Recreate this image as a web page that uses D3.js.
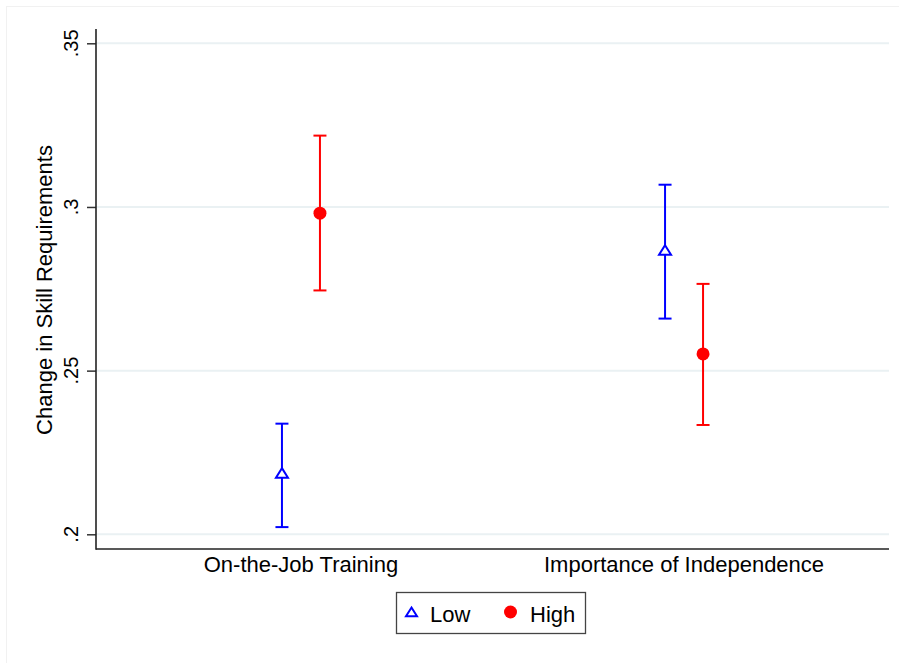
<!DOCTYPE html>
<html>
<head>
<meta charset="utf-8">
<script src="https://cdn.jsdelivr.net/npm/d3@7"></script>
<style>
  html, body { margin: 0; padding: 0; background: #fff; }
  svg text { font-family: "Liberation Sans", Arial, Helvetica, sans-serif; fill: #000; }
</style>
</head>
<body>
<svg id="chart" width="899" height="663"></svg>
<script>
// Outcome categories and skill groups
const categories = ["On-the-Job Training", "Importance of Independence"];
const groups = ["Low", "High"];

// Point estimates and 95% confidence bounds, per category (same order as categories)
const lowEstimate  = [0.2184, 0.2865];
const lowLower     = [0.2022, 0.2659];
const lowUpper     = [0.2338, 0.3068];
const highEstimate = [0.2981, 0.2551];
const highLower    = [0.2745, 0.2334];
const highUpper    = [0.3218, 0.2765];

const yTicks = [0.2, 0.25, 0.3, 0.35];
const yTickLabels = [".2", ".25", ".3", ".35"];
const yTitle = "Change in Skill Requirements";

const colors = { Low: "#0000ff", High: "#ff0000" };

const rows = [];
categories.forEach((c, i) => {
  rows.push({ cat: c, group: "Low",  est: lowEstimate[i],  lo: lowLower[i],  hi: lowUpper[i] });
  rows.push({ cat: c, group: "High", est: highEstimate[i], lo: highLower[i], hi: highUpper[i] });
});

const svg = d3.select("#chart");

// Plot region
const plotL = 96, plotR = 889, plotT = 29, plotB = 549;

// Faint outer frame edges
svg.append("line").attr("x1", 6.5).attr("x2", 6.5).attr("y1", 6).attr("y2", 663)
  .attr("stroke", "#f1f1f1").attr("stroke-width", 1);
svg.append("line").attr("x1", 6).attr("x2", 899).attr("y1", 6.5).attr("y2", 6.5)
  .attr("stroke", "#f1f1f1").attr("stroke-width", 1);

const y = d3.scaleLinear().domain([0.2, 0.35]).range([534.3, 43.3]);
const x = d3.scalePoint().domain(categories).range([plotL, plotR]).padding(0.535);
const dx = d3.scalePoint().domain(groups).range([-19, 19]);

// Horizontal grid lines
svg.append("g").selectAll("line").data(yTicks).join("line")
  .attr("x1", plotL).attr("x2", plotR)
  .attr("y1", d => y(d)).attr("y2", d => y(d))
  .attr("stroke", "#eaf1f3").attr("stroke-width", 2);

// Y axis
const yAxis = d3.axisLeft(y).tickValues(yTicks).tickSize(9).tickFormat("");
const gy = svg.append("g").attr("transform", `translate(${plotL},0)`).call(yAxis);
gy.select(".domain").remove();
gy.selectAll(".tick line").attr("stroke", "#333").attr("stroke-width", 1.5);
svg.append("line").attr("x1", plotL).attr("x2", plotL).attr("y1", plotT).attr("y2", plotB + 0.75)
  .attr("stroke", "#222").attr("stroke-width", 1.6);

// Rotated tick labels
svg.append("g").selectAll("text").data(yTicks).join("text")
  .attr("transform", d => `translate(78,${y(d)}) rotate(-90)`)
  .attr("text-anchor", "middle")
  .style("font-size", "20px")
  .text((d, i) => yTickLabels[i]);

// Y title
svg.append("text")
  .attr("transform", `translate(52,290) rotate(-90)`)
  .attr("text-anchor", "middle")
  .style("font-size", "22px")
  .text(yTitle);

// X axis
svg.append("line").attr("x1", plotL).attr("x2", plotR).attr("y1", plotB).attr("y2", plotB)
  .attr("stroke", "#222").attr("stroke-width", 1.6);
svg.append("g").selectAll("text").data(categories).join("text")
  .attr("x", d => x(d)).attr("y", 572)
  .attr("text-anchor", "middle")
  .style("font-size", "22px")
  .text(d => d);

// Confidence intervals
const marks = svg.append("g");
const capW = 6.5;
rows.forEach(r => {
  const cx = x(r.cat) + dx(r.group);
  const col = colors[r.group];
  const g = marks.append("g").attr("stroke", col).attr("stroke-width", 2).attr("fill", "none");
  g.append("line").attr("x1", cx).attr("x2", cx).attr("y1", y(r.lo)).attr("y2", y(r.hi));
  g.append("line").attr("x1", cx - capW).attr("x2", cx + capW).attr("y1", y(r.lo)).attr("y2", y(r.lo));
  g.append("line").attr("x1", cx - capW).attr("x2", cx + capW).attr("y1", y(r.hi)).attr("y2", y(r.hi));
});

// Point markers
function triPath(cx, cy, s) {
  const h = s * 0.8;
  return `M${cx},${cy - h * 0.62}L${cx + s / 2},${cy + h * 0.38}L${cx - s / 2},${cy + h * 0.38}Z`;
}
rows.forEach(r => {
  const cx = x(r.cat) + dx(r.group);
  const cy = y(r.est);
  if (r.group === "Low") {
    marks.append("path").attr("d", triPath(cx, cy, 12))
      .attr("fill", "#fff").attr("stroke", colors.Low).attr("stroke-width", 2);
  } else {
    marks.append("circle").attr("cx", cx).attr("cy", cy).attr("r", 6.5)
      .attr("fill", colors.High);
  }
});

// Legend
const lg = svg.append("g");
lg.append("rect").attr("x", 396.5).attr("y", 592.5).attr("width", 189).attr("height", 41)
  .attr("fill", "#fff").attr("stroke", "#444").attr("stroke-width", 1.3);
lg.append("path").attr("d", triPath(411.5, 613, 11))
  .attr("fill", "#fff").attr("stroke", colors.Low).attr("stroke-width", 2);
lg.append("text").attr("x", 430).attr("y", 621.5).style("font-size", "22px").text(groups[0]);
lg.append("circle").attr("cx", 510.5).attr("cy", 612).attr("r", 6.5).attr("fill", colors.High);
lg.append("text").attr("x", 530).attr("y", 621.5).style("font-size", "22px").text(groups[1]);
</script>
</body>
</html>
